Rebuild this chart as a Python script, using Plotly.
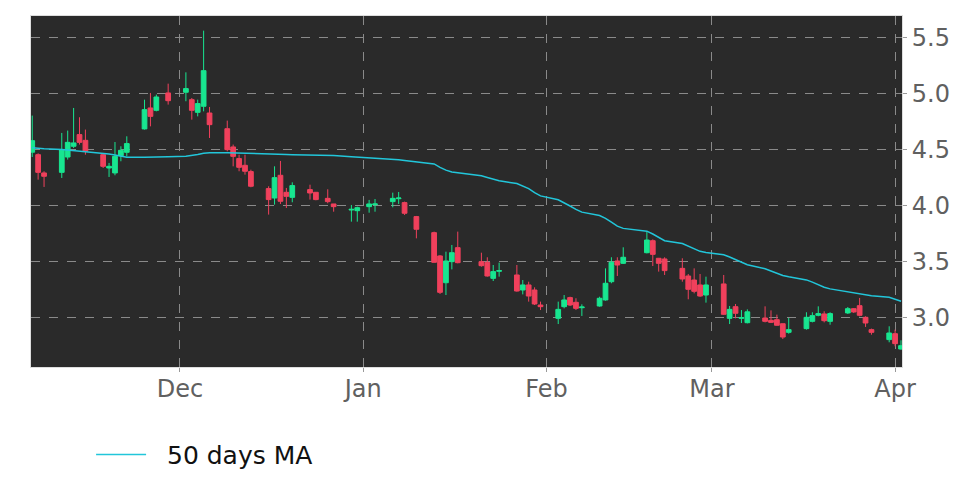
import plotly.graph_objects as go

dates = [
    "2024-11-06", "2024-11-07", "2024-11-08",
    "2024-11-11", "2024-11-12", "2024-11-13", "2024-11-14", "2024-11-15",
    "2024-11-18", "2024-11-19", "2024-11-20", "2024-11-21", "2024-11-22",
    "2024-11-25", "2024-11-26", "2024-11-27", "2024-11-29",
    "2024-12-02", "2024-12-03", "2024-12-04", "2024-12-05", "2024-12-06",
    "2024-12-09", "2024-12-10", "2024-12-11", "2024-12-12", "2024-12-13",
    "2024-12-16", "2024-12-17", "2024-12-18", "2024-12-19", "2024-12-20",
    "2024-12-23", "2024-12-24", "2024-12-26", "2024-12-27",
    "2024-12-30", "2024-12-31", "2025-01-02", "2025-01-03",
    "2025-01-06", "2025-01-07", "2025-01-08", "2025-01-10",
    "2025-01-13", "2025-01-14", "2025-01-15", "2025-01-16", "2025-01-17",
    "2025-01-21", "2025-01-22", "2025-01-23", "2025-01-24",
    "2025-01-27", "2025-01-28", "2025-01-29", "2025-01-30", "2025-01-31",
    "2025-02-03", "2025-02-04", "2025-02-05", "2025-02-06", "2025-02-07",
    "2025-02-10", "2025-02-11", "2025-02-12", "2025-02-13", "2025-02-14",
    "2025-02-18", "2025-02-19", "2025-02-20", "2025-02-21",
    "2025-02-24", "2025-02-25", "2025-02-26", "2025-02-27", "2025-02-28",
    "2025-03-03", "2025-03-04", "2025-03-05", "2025-03-06", "2025-03-07",
    "2025-03-10", "2025-03-11", "2025-03-12", "2025-03-13", "2025-03-14",
    "2025-03-17", "2025-03-18", "2025-03-19", "2025-03-20", "2025-03-21",
    "2025-03-24", "2025-03-25", "2025-03-26", "2025-03-27", "2025-03-28",
    "2025-03-31", "2025-04-01", "2025-04-02",
]

open_ = [
    4.48, 4.458, 4.295,
    4.30, 4.437, 4.533, 4.637, 4.586,
    4.458, 4.339, 4.295, 4.449, 4.479,
    4.688, 4.875, 4.854, 5.009,
    5.015, 4.949, 4.836, 4.89, 4.830,
    4.69, 4.527, 4.423, 4.363, 4.307,
    4.155, 4.071, 4.274, 4.122, 4.077,
    4.146, 4.122, 4.068, 4.018,
    3.964, 3.958, 3.994, 4.012,
    4.039, 4.065, 4.03, 3.905,
    3.762, 3.554, 3.315, 3.503, 3.628,
    3.503, 3.497, 3.354, 3.417,
    3.384, 3.25, 3.295, 3.25, 3.116,
    2.997, 3.101, 3.182, 3.140, 3.092,
    3.107, 3.161, 3.324, 3.509, 3.488,
    3.583, 3.69, 3.533, 3.527,
    3.443, 3.375, 3.339, 3.295, 3.205,
    3.304, 2.997, 3.101, 2.997, 2.958,
    3.0, 2.979, 2.985, 2.949, 2.872,
    2.905, 2.97, 3.024, 3.036, 2.97,
    3.045, 3.083, 3.110, 3.006, 2.896,
    2.807, 2.86, 2.723,
]

high = [
    4.807, 4.47, 4.31,
    4.652, 4.673, 4.875, 4.792, 4.682,
    4.473, 4.384, 4.571, 4.533, 4.622,
    4.949, 5.009, 4.994, 5.092,
    5.193, 4.964, 4.949, 5.565, 4.884,
    4.762, 4.548, 4.458, 4.458, 4.324,
    4.176, 4.354, 4.402, 4.161, 4.211,
    4.19, 4.125, 4.149, 4.018,
    4.009, 3.994, 4.054, 4.062,
    4.119, 4.125, 4.039, 3.911,
    3.771, 3.562, 3.592, 3.652, 3.771,
    3.583, 3.542, 3.473, 3.494,
    3.473, 3.339, 3.324, 3.274, 3.146,
    3.146, 3.205, 3.19, 3.176, 3.122,
    3.19, 3.443, 3.542, 3.542, 3.631,
    3.771, 3.702, 3.536, 3.542,
    3.533, 3.393, 3.443, 3.393, 3.369,
    3.384, 3.107, 3.125, 3.071, 3.077,
    3.104, 3.068, 3.03, 2.949, 3.0,
    3.051, 3.051, 3.104, 3.06, 3.051,
    3.098, 3.089, 3.179, 3.015, 2.905,
    2.926, 2.896, 2.801,
]

low = [
    4.437, 4.235, 4.17,
    4.25, 4.414, 4.518, 4.548, 4.458,
    4.339, 4.259, 4.274, 4.399, 4.443,
    4.682, 4.711, 4.845, 4.905,
    4.935, 4.771, 4.80, 4.845, 4.607,
    4.488, 4.354, 4.31, 4.28, 4.167,
    3.923, 4.012, 4.018, 3.982, 4.033,
    4.057, 4.051, 4.024, 3.949,
    3.86, 3.86, 3.94, 3.949,
    3.988, 4.018, 3.92, 3.711,
    3.497, 3.214, 3.205, 3.434, 3.488,
    3.458, 3.369, 3.33, 3.369,
    3.235, 3.211, 3.146, 3.116, 3.071,
    2.946, 3.086, 3.107, 3.071, 3.018,
    3.101, 3.155, 3.31, 3.375, 3.482,
    3.577, 3.464, 3.414, 3.384,
    3.324, 3.167, 3.22, 3.188, 3.137,
    3.027, 2.946, 2.997, 2.955, 2.952,
    2.961, 2.955, 2.932, 2.812, 2.86,
    2.896, 2.961, 3.015, 2.961, 2.94,
    3.036, 3.045, 3.015, 2.92, 2.851,
    2.783, 2.747, 2.717,
]

close = [
    4.583, 4.30, 4.265,
    4.503, 4.568, 4.563, 4.568, 4.488,
    4.354, 4.354, 4.443, 4.497, 4.557,
    4.86, 4.80, 4.973, 4.94,
    5.048, 4.854, 4.914, 5.208, 4.726,
    4.503, 4.443, 4.345, 4.31, 4.176,
    4.057, 4.253, 4.042, 4.086, 4.182,
    4.116, 4.057, 4.039, 3.994,
    3.970, 3.985, 4.018, 4.018,
    4.068, 4.071, 3.935, 3.792,
    3.497, 3.229, 3.509, 3.583, 3.494,
    3.467, 3.375, 3.414, 3.423,
    3.241, 3.295, 3.196, 3.125, 3.101,
    3.077, 3.161, 3.116, 3.086, 3.098,
    3.176, 3.31, 3.497, 3.473, 3.542,
    3.696, 3.568, 3.488, 3.423,
    3.348, 3.256, 3.238, 3.196, 3.295,
    3.033, 3.077, 3.042, 3.003, 3.055,
    2.97, 2.961, 2.935, 2.83, 2.896,
    3.006, 3.021, 3.039, 2.976, 3.039,
    3.083, 3.054, 3.024, 2.955, 2.872,
    2.866, 2.771, 2.753,
]

ma50 = [
    4.52, 4.515, 4.51,
    4.505, 4.50, 4.50, 4.495, 4.49,
    4.475, 4.465, 4.455, 4.445, 4.435,
    4.435, 4.435, 4.437, 4.44,
    4.445, 4.45, 4.46, 4.47, 4.475,
    4.476, 4.475, 4.474, 4.473, 4.472,
    4.468, 4.466, 4.462, 4.46, 4.458,
    4.455, 4.455, 4.453, 4.45,
    4.44, 4.437, 4.432, 4.428,
    4.418, 4.412, 4.405, 4.392,
    4.375, 4.345, 4.32, 4.303, 4.296,
    4.27, 4.255, 4.24, 4.225,
    4.20, 4.18, 4.155, 4.12, 4.09,
    4.055, 4.03, 4.00, 3.97, 3.945,
    3.915, 3.89, 3.855, 3.82, 3.80,
    3.775, 3.75, 3.72, 3.69,
    3.665, 3.64, 3.615, 3.595, 3.585,
    3.565, 3.545, 3.52, 3.50, 3.475,
    3.44, 3.42, 3.40, 3.38, 3.368,
    3.34, 3.32, 3.295, 3.275, 3.26,
    3.235, 3.225, 3.215, 3.205, 3.198,
    3.185, 3.17, 3.15,
]

month_ticks = ["2024-12-01", "2025-01-01", "2025-02-01", "2025-03-01", "2025-04-01"]
month_labels = ["Dec", "Jan", "Feb", "Mar", "Apr"]
price_ticks = [3.0, 3.5, 4.0, 4.5, 5.0, 5.5]

GREEN = "#18e690"
RED = "#f0405c"
MA_COLOR = "#22c6da"
TICK_COLOR = "#606060"

fig = go.Figure()
fig.add_trace(go.Candlestick(
    x=dates, open=open_, high=high, low=low, close=close,
    increasing=dict(line=dict(color=GREEN, width=1), fillcolor=GREEN),
    decreasing=dict(line=dict(color=RED, width=1), fillcolor=RED),
    showlegend=False, hoverinfo="skip",
))
fig.add_trace(go.Scatter(
    x=dates, y=ma50, mode="lines", name="\u00a0\u00a050 days MA",
    line=dict(color=MA_COLOR, width=1.5),
))

# page body adds an 8px margin, so the figure is slightly smaller
fig.update_layout(
    width=956, height=470,
    margin=dict(l=23, r=62, t=8, b=111, autoexpand=False),
    paper_bgcolor="white",
    plot_bgcolor="#2a2a2a",
    boxgap=0.2, boxgroupgap=0,
    font=dict(family="DejaVu Sans", size=24, color=TICK_COLOR),
    showlegend=True,
    legend=dict(
        orientation="h", x=0.069, y=-0.25, xanchor="left", yanchor="middle",
        font=dict(family="DejaVu Sans", size=25, color="#111111"),
        bgcolor="rgba(0,0,0,0)", itemwidth=50,
    ),
    xaxis=dict(
        type="date", automargin=False,
        range=["2024-11-05 19:00", "2025-04-02 04:00"],
        tickvals=month_ticks, ticktext=month_labels,
        showgrid=True, gridcolor="#8a8a8a", griddash="dash", gridwidth=1,
        rangeslider=dict(visible=False),
        showline=True, linecolor="#dddddd", linewidth=1, mirror=True,
        ticks="outside", ticklen=4, tickcolor="#999999",
        ticklabelstandoff=-4,
        zeroline=False,
        tickfont=dict(size=24, color=TICK_COLOR),
    ),
    yaxis=dict(
        side="right", automargin=False,
        range=[2.5625, 5.696],
        tickvals=price_ticks, tickformat=".1f",
        showgrid=True, gridcolor="#8a8a8a", griddash="dash", gridwidth=1,
        showline=True, linecolor="#dddddd", linewidth=1, mirror=True,
        ticks="outside", ticklen=4, tickcolor="#999999",
        zeroline=False,
        tickfont=dict(size=24, color=TICK_COLOR),
    ),
)

fig.write_html("out.html")
